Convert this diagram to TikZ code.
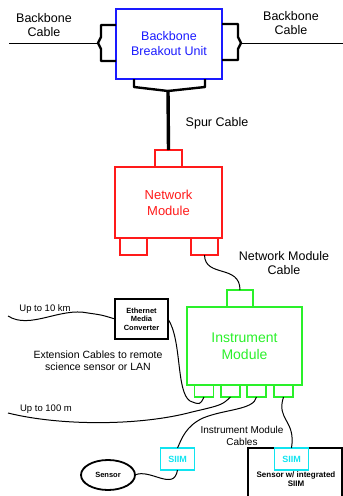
\documentclass[tikz,border=0pt]{standalone}
\usepackage{fontspec}
\setmainfont{Liberation Sans}
\usepackage{xcolor}
\definecolor{cBBU}{HTML}{1A1AFF}
\definecolor{cNet}{HTML}{FF1A1A}
\definecolor{cInst}{HTML}{2AF02A}
\definecolor{cSiim}{HTML}{10E4F0}
\usetikzlibrary{positioning,shapes.geometric}
\tikzset{
  box-bbu/.style={draw=cBBU,line width=1.8pt,text=cBBU,minimum width=106pt,
    minimum height=70pt,align=center,inner sep=0pt,outer sep=0pt,
    font=\fontsize{12.5}{15}\selectfont},
  box-net/.style={draw=cNet,line width=1.8pt,text=cNet,minimum width=107pt,
    minimum height=71pt,align=center,inner sep=0pt,outer sep=0pt,
    font=\fontsize{13}{16}\selectfont},
  box-inst/.style={draw=cInst,line width=2pt,text=cInst,minimum width=115pt,
    minimum height=78pt,align=center,inner sep=0pt,outer sep=0pt,
    font=\fontsize{14}{17}\selectfont},
  port-net/.style={draw=cNet,line width=1.5pt,minimum width=27pt,
    minimum height=17pt,inner sep=0pt,outer sep=0pt},
  port-inst/.style={draw=cInst,line width=1.5pt,minimum width=19pt,
    minimum height=12pt,inner sep=0pt,outer sep=0pt},
  box-emc/.style={draw,line width=1.6pt,minimum width=53pt,minimum height=40pt,
    align=center,inner sep=0pt,outer sep=0pt,font=\fontsize{7.5}{8.5}\selectfont\bfseries},
  box-siim/.style={draw=cSiim,line width=1.5pt,text=cSiim,minimum width=34pt,
    minimum height=22pt,inner sep=0pt,outer sep=0pt,font=\fontsize{9}{10}\selectfont\bfseries},
  box-sensor/.style={draw,line width=1.8pt,minimum width=94pt,minimum height=60pt,
    inner sep=0pt,outer sep=0pt},
  node-sensor/.style={draw,ellipse,line width=1.8pt,minimum width=54pt,
    minimum height=30pt,inner sep=0pt,outer sep=0pt,font=\fontsize{7.5}{9}\selectfont\bfseries},
  lbl/.style={align=center,inner sep=0pt,font=\fontsize{12.5}{14}\selectfont},
  lbl-small/.style={align=center,inner sep=0pt,font=\fontsize{10.5}{12}\selectfont},
  bracket/.style={line width=2.4pt,line join=round},
  spur/.style={line width=3.4pt},
  cable/.style={line width=1pt},
}
\begin{document}
\begin{tikzpicture}[x=1pt,y=-1pt]
  \useasboundingbox (0,0) rectangle (343,496);
  \clip (0,0) rectangle (343,496);
  % backbone breakout unit
  \node[box-bbu] (bbu) at (169,44) {Backbone\\Breakout Unit};
  \draw[bracket] (116,25) -- (101,25) -- (101,37) -- (98,43) -- (101,49)
    -- (101,61) -- (116,61);
  \draw[bracket] (222,24) -- (238,24) -- (238,37) -- (241,43) -- (238,49)
    -- (238,60) -- (222,60);
  \draw[bracket] (134,79) -- (134,87) -- (168,91) -- (205,87) -- (205,79);
  \coordinate (bb-l) at (98,43);
  \coordinate (bb-lfree) at (9,43);
  \coordinate (bb-r) at (241,43);
  \coordinate (bb-rfree) at (343,43);
  \coordinate (spur-top) at (168,90);
  \draw[cable] (bb-lfree) -- (bb-l);
  \draw[cable] (bb-r) -- (bb-rfree);
  \node[lbl] (bb-lcab) at (44,25) {Backbone\\Cable};
  \node[lbl] (bb-rcab) at (291,23) {Backbone\\Cable};

  % network module
  \node[box-net] (nm) at (168.5,202.5) {Network\\Module};
  \node[port-net,above=0pt of nm] (nm-top) {};
  \node[port-net,anchor=north] (nm-p1) at ([xshift=-35pt]nm.south) {};
  \node[port-net,anchor=north] (nm-p2) at ([xshift=36pt]nm.south) {};
  \draw[spur] (spur-top) -- (nm-top.north);
  \node[lbl] (spur-lbl) at (217,123) {Spur Cable};

  % instrument module
  \node[box-inst] (im) at (244.5,346) {Instrument\\Module};
  \node[port-inst,minimum width=26pt,minimum height=17pt,anchor=south]
    (im-top) at ([xshift=-4.5pt]im.north) {};
  \foreach \i/\dx in {1/-40.5,2/-14,3/12,4/39}
    \node[port-inst,anchor=north] (im-p\i) at ([xshift=\dx pt]im.south) {};
  \draw[cable] (nm-p2.south) .. controls (205,278) and (240,264) .. (im-top.north);
  \node[lbl] (nmc-lbl) at (284,263) {Network Module\\Cable};

  % extension cables
  \node[box-emc] (emc) at (141.5,319) {Ethernet\\Media\\Converter};
  \coordinate (fib-free) at (8,316);
  \coordinate (cu-free) at (8,413);
  \draw[cable] (fib-free) .. controls (30,330) and (60,307) .. (88,313)
    .. controls (102,315) .. (emc.west);
  \draw[cable] (emc.east) .. controls (182,340) and (176,392) .. (190,401)
    .. controls (200,405) .. (im-p1.south);
  \draw[cable] (cu-free) .. controls (60,426) and (140,426) .. (192,412)
    .. controls (222,405) .. (im-p2.south);
  \node[lbl-small,font=\fontsize{9.5}{11}\selectfont] (fib-lbl) at (45,309) {Up to 10 km};
  \node[lbl-small,font=\fontsize{9.5}{11}\selectfont] (cu-lbl) at (46,409) {Up to 100 m};
  \node[lbl-small] (ext-lbl) at (98,361) {Extension Cables to remote\\science sensor or LAN};

  % instrument cables, SIIMs and sensors
  \node[box-siim] (siim1) at (177.5,459) {SIIM};
  \node[node-sensor] (sens) at (108,475) {Sensor};
  \node[box-sensor,anchor=north west] (sbox) at (248,448) {};
  \node[box-siim] (siim2) at (291.5,459) {SIIM};
  \node[inner sep=0pt,align=center,font=\fontsize{8}{9.5}\selectfont\bfseries]
    (sbox-lbl) at (296,479) {Sensor w/ integrated\\SIIM};
  \draw[cable] (im-p3.south) .. controls (254,410) and (225,409) .. (203,418)
    .. controls (186,426) and (182,438) .. (siim1.north);
  \draw[cable] (siim1.south) .. controls (174,492) and (150,468) .. (sens.east);
  \draw[cable] (im-p4.south) .. controls (276,420) and (296,420) .. (siim2.north);
  \node[lbl-small,font=\fontsize{10}{11.5}\selectfont] (imc-lbl) at (242,436)
    {Instrument Module\\Cables};
\end{tikzpicture}
\end{document}
